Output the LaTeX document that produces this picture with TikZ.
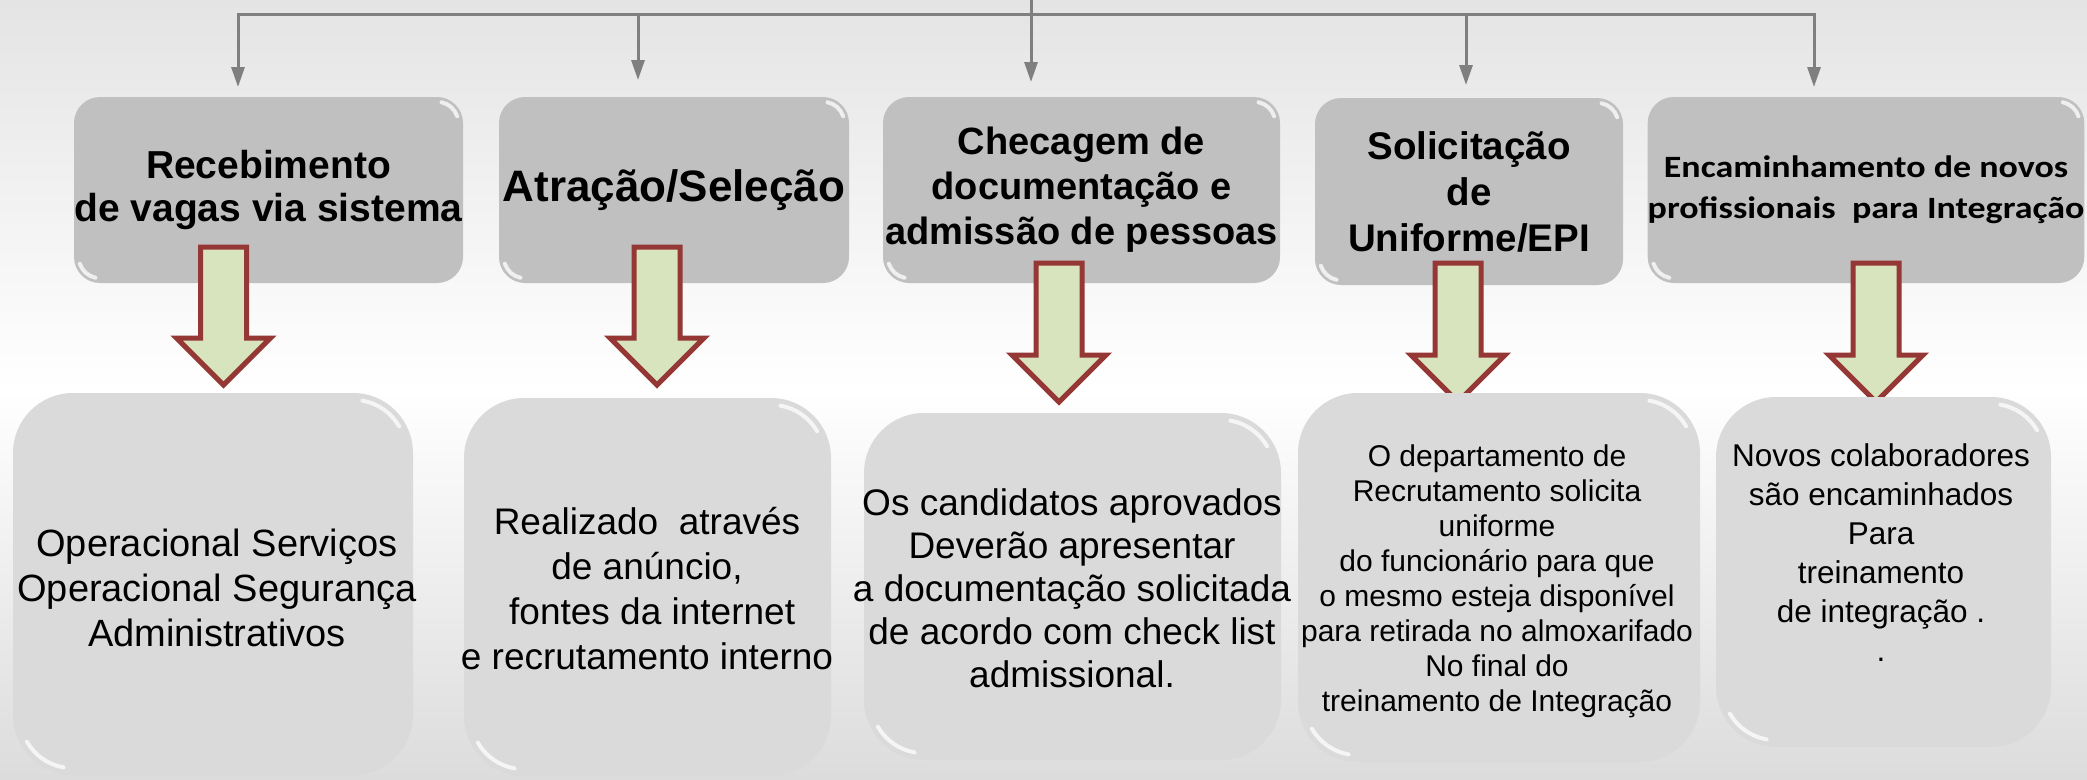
\documentclass[tikz,border=0pt]{standalone}
\usepackage{fontspec}
\setmainfont{Liberation Sans}
\newfontfamily\calib[FakeStretch=1.16]{Carlito}
\usetikzlibrary{arrows.meta,calc}
\definecolor{bgtop}{HTML}{E4E4E4}
\definecolor{bgbot}{HTML}{DCDCDC}
\definecolor{topgray}{HTML}{C0C0C0}
\definecolor{botgray}{HTML}{DADADA}
\definecolor{conngray}{HTML}{7F7F7F}
\definecolor{arrowfill}{HTML}{D7E4BD}
\definecolor{arrowline}{HTML}{953735}
\newcommand{\blockarrow}[4]{%
  \filldraw[barrow] (#1-23,#2) -- (#1+23,#2) -- (#1+23,#3) -- (#1+47,#3) -- (#1,#4) -- (#1-47,#3) -- (#1-23,#3) -- cycle;}
% glossy highlights following the rounded corners (y axis points down)
\newcommand{\glintT}[1]{%
  \draw[glint] ($(#1.north east)+(-26,26)+(-78:21)$) arc[start angle=-78,end angle=-18,radius=21];
  \draw[glint] ($(#1.south west)+(26,-26)+(102:21)$) arc[start angle=102,end angle=162,radius=21];}
\newcommand{\glintB}[1]{%
  \draw[glint] ($(#1.north east)+(-60,60)+(-80:53)$) arc[start angle=-80,end angle=-30,radius=53];
  \draw[glint] ($(#1.south west)+(60,-60)+(100:53)$) arc[start angle=100,end angle=150,radius=53];}
\begin{document}
\begin{tikzpicture}[x=1pt,y=-1pt,
  topbox/.style={fill=topgray, rounded corners=26pt, inner sep=0pt, align=center, font=\bfseries},
  botbox/.style={fill=botgray, rounded corners=60pt, inner sep=0pt},
  btext/.style={align=center, inner sep=0pt},
  conn/.style={draw=conngray, line width=3pt, -{Triangle[length=20pt,width=13pt]}},
  stem/.style={draw=conngray, line width=3pt},
  barrow/.style={fill=arrowfill, draw=arrowline, line width=5pt, line join=miter},
  glint/.style={draw=white, line width=4pt, line cap=round, opacity=0.75}]
\useasboundingbox (0,0) rectangle (2087,779);
\shade[top color=bgtop, bottom color=bgbot, middle color=white] (0,0) rectangle (2087,779);

% top boxes
\node[topbox, minimum width=389pt, minimum height=186pt, font=\bfseries\fontsize{39}{43}\selectfont] (T1) at (268.5,190) {Recebimento\\de vagas via sistema};
\node[topbox, minimum width=350pt, minimum height=186pt, font=\bfseries\fontsize{44}{48}\selectfont] (T2) at (674,190) {Atração/Seleção};
\node[topbox, minimum width=397pt, minimum height=186pt, font=\bfseries\fontsize{38}{45}\selectfont] (T3) at (1081.5,190) {Checagem de\\documentação e\\admissão de pessoas};
\node[topbox, minimum width=308pt, minimum height=187pt, font=\bfseries\fontsize{38.5}{46}\selectfont] (T4) at (1469,191.5) {Solicitação\\de\\Uniforme/EPI};
\node[topbox, minimum width=434pt, minimum height=186pt, font=\calib\bfseries\fontsize{31}{41}\selectfont] (T5) at (1866,190) {Encaminhamento de novos\\profissionais\ \ para Integração};
\foreach \n in {T1,T2,T3,T4,T5} {\glintT{\n}}

% block arrows
\blockarrow{223.5}{247}{338}{385}
\blockarrow{657}{247}{338}{385}
\blockarrow{1059}{263}{355}{402}
\blockarrow{1458}{263}{355}{402}
\blockarrow{1876}{263}{355}{402}

% bottom boxes
\node[botbox, minimum width=400pt, minimum height=382pt] (B1) at (213,584) {};
\node[botbox, minimum width=367pt, minimum height=378pt] (B2) at (647.5,587) {};
\node[botbox, minimum width=417pt, minimum height=347pt] (B3) at (1072.5,586.5) {};
\node[botbox, minimum width=402pt, minimum height=369pt] (B4) at (1499,577.5) {};
\node[botbox, minimum width=335pt, minimum height=350pt] (B5) at (1883.5,572) {};
\foreach \n in {B1,B2,B3,B4,B5} {\glintB{\n}}

\node[btext, font=\fontsize{38}{45}\selectfont] (L1) at (217,588) {Operacional Serviços\\Operacional Segurança\\Administrativos};
\node[btext, font=\fontsize{37}{45}\selectfont] (L2) at (647,589) {Realizado\ \ através\\de anúncio,\\\ fontes da internet\\e recrutamento interno};
\node[btext, font=\fontsize{37}{43}\selectfont] (L3) at (1072,588.5) {Os candidatos aprovados\\Deverão apresentar\\a documentação solicitada\\de acordo com check list\\admissional.};
\node[btext, font=\fontsize{30}{35}\selectfont] (L4) at (1497,581.5) {O departamento de\\Recrutamento solicita\\uniforme\\do funcionário para que\\o mesmo esteja disponível\\para retirada no almoxarifado\\No final do\\treinamento de Integração};
\node[btext, font=\fontsize{31.5}{39}\selectfont] (L5) at (1881,553) {Novos colaboradores\\são encaminhados\\Para\\treinamento\\de integração .\\.};

% top connectors
\coordinate (src) at (1031,0);
\coordinate (hub) at (1031,14);
\coordinate (d1) at (238,87);
\coordinate (d2) at (638,80);
\coordinate (d3) at (1031,82);
\coordinate (d4) at (1466,85);
\coordinate (d5) at (1814,87);
\draw[stem] (src) -- (hub);
\foreach \d in {d1,d2,d4,d5} {\draw[conn] (hub) -| (\d);}
\draw[conn] (hub) -- (d3);
\end{tikzpicture}
\end{document}
